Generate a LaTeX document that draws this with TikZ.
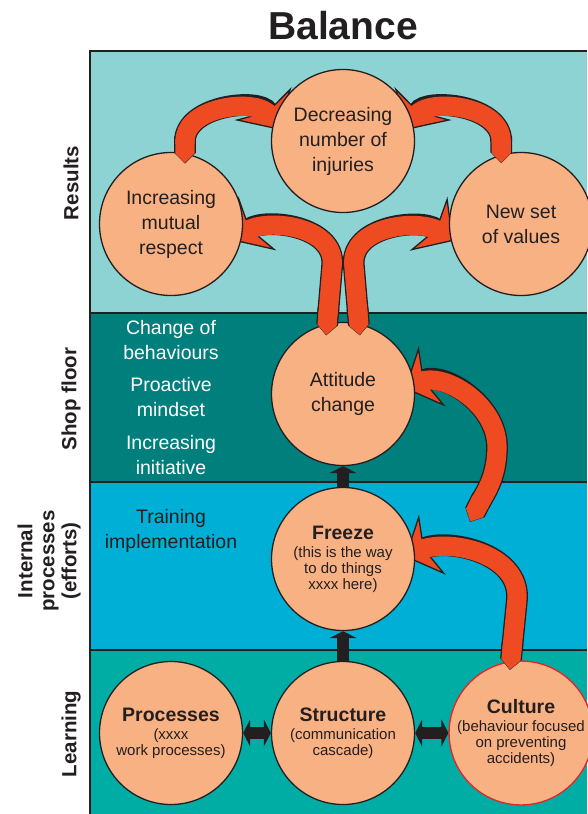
\documentclass[tikz,border=0pt]{standalone}
\usepackage{fontspec}
\setmainfont{Liberation Sans}
\usepackage{tikz}
\usetikzlibrary{arrows.meta,calc}

\definecolor{ink}{HTML}{231F20}
\definecolor{peach}{HTML}{F8B183}
\definecolor{arrowred}{HTML}{EF4B23}
\definecolor{culturered}{HTML}{E3242B}
\definecolor{resultband}{HTML}{8DD3D3}
\definecolor{shopband}{HTML}{007F7D}
\definecolor{processband}{HTML}{00AFD6}
\definecolor{learnband}{HTML}{00ADA5}

\newcommand\circfont{\fontsize{19.5}{25}\selectfont}
\newcommand\notefont{\fontsize{15}{16}\selectfont}
\newcommand\headfont{\fontsize{19.5}{20}\selectfont\bfseries}

\pgfdeclarelayer{bands}
\pgfdeclarelayer{first}
\pgfdeclarelayer{second}
\pgfdeclarelayer{third}
\pgfdeclarelayer{fourth}
\pgfdeclarelayer{fifth}
\pgfsetlayers{bands,first,second,third,fourth,fifth,main}

\begin{document}
\begin{tikzpicture}[x=1pt,y=1pt]
	\tikzstyle{circ_node}=[circle, minimum size=143pt, inner sep=0pt, fill=peach, draw=ink, line width=1.3pt, align=center, text=ink, font=\circfont]
	\tikzstyle{side_text}=[align=center, font=\circfont]
	\tikzstyle{band_label}=[rotate=90, align=center, text=ink, font=\fontsize{20.5}{22}\selectfont\bfseries]
	\tikzstyle{bent_arrow}=[draw=arrowred, line width=19.2pt, {Triangle Cap}-, shorten <=0.6pt, shorten >=16pt,
		preaction={draw=ink, line width=21.8pt, shorten <=0pt, shorten >=0pt,
			{Triangle Cap}-{Stealth[length=30pt, width=66pt, inset=9pt, fill=arrowred, line width=1.3pt]}}]
	\tikzstyle{fat_both}=[draw=ink, line width=12pt, {Triangle[length=7pt, width=27pt]}-{Triangle[length=7pt, width=27pt]}]
	\tikzstyle{fat_up}=[draw=ink, line width=12pt, -{Triangle[length=7pt, width=27pt]}]

	\useasboundingbox (0,0) rectangle (587,-814);
	\node[font=\fontsize{39}{40}\selectfont\bfseries, text=ink] (title) at (343,-26) {Balance};

	% the four bands
	\begin{pgfonlayer}{bands}
		\fill[resultband] (90,-51) rectangle (587,-313);
		\fill[shopband] (90,-313) rectangle (587,-482);
		\fill[processband] (90,-482) rectangle (587,-650);
		\fill[learnband] (90,-650) rectangle (587,-814);
		\draw[ink, line width=1.6pt] (587,-51) -- (90,-51) -- (90,-814);
		\foreach \y in {313,482,650}
			\draw[ink, line width=1.6pt] (90,-\y) -- (587,-\y);
	\end{pgfonlayer}

	\node[band_label] (lres) at (71,-183) {Results};
	\node[band_label] (lshop) at (71,-399) {Shop floor};
	\node[band_label] (lint) at (49,-561) {Internal\\processes\\(efforts)};
	\node[band_label] (llearn) at (71,-734) {Learning};

	\node[side_text, text=white] (behav) at (171,-340) {Change of\\behaviours};
	\node[side_text, text=white] (mind) at (171,-397) {Proactive\\mindset};
	\node[side_text, text=white] (init) at (171,-455) {Increasing\\initiative};
	\node[side_text, text=ink] (train) at (171,-531) {Training\\implementation};

	% circles
	\begin{pgfonlayer}{first}
		\node[circ_node, draw=culturered, font=\notefont] (cult) at (521,-733) {{\headfont Culture}\\[2pt](behaviour focused\\on preventing\\accidents)};
	\end{pgfonlayer}
	\begin{pgfonlayer}{second}
		\node[circ_node] (att) at (343,-394) {Attitude\\change};
	\end{pgfonlayer}
	\begin{pgfonlayer}{third}
		\node[circ_node, font=\notefont] (frz) at (343,-559) {{\headfont Freeze}\\[2pt](this is the way\\to do things\\xxxx here)};
	\end{pgfonlayer}
	\begin{pgfonlayer}{fourth}
		\node[circ_node] (resp) at (171,-224) {Increasing\\mutual\\respect};
		\node[circ_node] (vals) at (521,-224) {New set\\of values};
	\end{pgfonlayer}
	\node[circ_node] (inj) at (343,-141) {Decreasing\\number of\\injuries};
	\node[circ_node, font=\notefont] (proc) at (171,-733) {{\headfont Processes}\\[2pt](xxxx\\work processes)};
	\node[circ_node, font=\notefont] (struc) at (343,-733) {{\headfont Structure}\\[2pt](communication\\cascade)};

	% red arrows
	\coordinate (ftail) at (470,-522);
	\begin{pgfonlayer}{first}
		\draw[bent_arrow] (ftail) to[out=63,in=-90] ++(27,75) to[out=90,in=24] ([shift={(5:62)}]att.center);
	\end{pgfonlayer}
	\begin{pgfonlayer}{second}
		\draw[bent_arrow] ([shift={(100:64)}]cult.center) -- ++(7,70) to[out=85,in=24] ([shift={(2:62)}]frz.center);
	\end{pgfonlayer}
	\begin{pgfonlayer}{third}
		\draw[bent_arrow] ([shift={(106:61)}]att.center) -- ++(6,70) to[out=85,in=35] ([shift={(-15:64)}]resp.center);
		\draw[bent_arrow] ([shift={(74:61)}]att.center) -- ++(-6,70) to[out=95,in=145] ([shift={(194:70)}]vals.center);
	\end{pgfonlayer}
	\begin{pgfonlayer}{fifth}
		\draw[bent_arrow] ([shift={(77:62)}]resp.center) -- ++(0,22) to[out=90,in=120] ([shift={(170:66)}]inj.center);
		\draw[bent_arrow] ([shift={(108:64)}]vals.center) -- ++(0,22) to[out=90,in=60] ([shift={(10:66)}]inj.center);
	\end{pgfonlayer}

	% black arrows
	\draw[fat_both] (proc) -- (struc);
	\draw[fat_both] (struc) -- (cult);
	\draw[fat_up] (struc) -- (frz);
	\draw[fat_up] (frz) -- (att);
\end{tikzpicture}
\end{document}
